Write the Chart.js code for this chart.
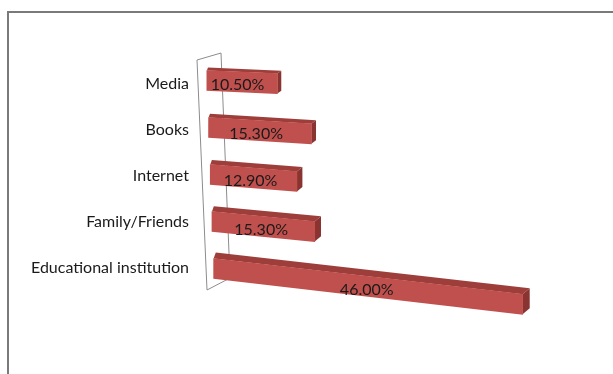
<!DOCTYPE html>
<html>
<head>
<meta charset="utf-8">
<script src="https://cdn.jsdelivr.net/npm/chart.js@4"></script>
<style>
  html, body { margin: 0; padding: 0; background: #fff; width: 613px; height: 374px; overflow: hidden; }
  #frame { position: absolute; left: 7px; top: 11px; width: 640px; height: 400px;
           border-top: 2px solid #7a7a7a; border-left: 2px solid #7a7a7a; }
  #wrap { position: absolute; left: 0; top: 0; width: 613px; height: 374px; }
</style>
</head>
<body>
<div id="frame"></div>
<div id="wrap"><canvas id="chart" width="613" height="374"></canvas></div>
<script>
// Sources of information (share of respondents, %)
const categories = ['Media', 'Books', 'Internet', 'Family/Friends', 'Educational institution'];
const shares = [10.5, 15.3, 12.9, 15.3, 46.0];
const valueLabels = ['10.50%', '15.30%', '12.90%', '15.30%', '46.00%'];

const FRONT = '#C0504D';
const TOP = '#9E3E3B';
const END = '#8A3432';
const FONT = 'Lato, "Open Sans", sans-serif';

// Perspective helpers: bars sink toward the bottom-right and gain depth lower down
function barGeom(chart, el) {
  const area = chart.chartArea;
  const t = (el.y - area.top) / (area.bottom - area.top); // 0 at top, 1 at bottom
  return {
    shift: t * 8.5,                 // left edge drifts right with the wall
    lift: -4 + t * 5,               // vertical placement within the band
    slope: 0.035 + t * 0.09,        // downward tilt along the bar
    dx: 3.5 + t * 4,                // depth offset
    dy: -(2.5 + t * 4)
  };
}

const perspectiveBars = {
  id: 'perspectiveBars',
  beforeDatasetsDraw(chart) {
    // back wall behind the category axis
    const { ctx, chartArea: a } = chart;
    ctx.save();
    ctx.strokeStyle = '#8c8c8c';
    ctx.lineWidth = 1;
    ctx.beginPath();
    ctx.moveTo(a.left - 9, a.top - 1);
    ctx.lineTo(a.left + 15, a.top - 8);
    ctx.lineTo(a.left + 24, a.bottom - 13);
    ctx.lineTo(a.left + 1, a.bottom - 1);
    ctx.closePath();
    ctx.stroke();
    ctx.restore();

    const meta = chart.getDatasetMeta(0);
    meta.data.forEach((el) => {
      if (el._wrapped) return;
      const orig = el.draw;
      el.draw = function (c) {
        const g = barGeom(chart, this);
        const x0 = this.base, x1 = this.x;
        const yT = this.y - this.height / 2 + g.lift, yB = this.y + this.height / 2 + g.lift;
        const drop = g.slope * (x1 - x0);
        const TL = [x0 + g.shift, yT], TR = [x1 + g.shift, yT + drop];
        const BR = [x1 + g.shift, yB + drop];
        c.save();
        // top face
        c.fillStyle = TOP;
        c.beginPath();
        c.moveTo(TL[0], TL[1]);
        c.lineTo(TR[0], TR[1]);
        c.lineTo(TR[0] + g.dx, TR[1] + g.dy);
        c.lineTo(TL[0] + g.dx * 0.3, TL[1] + g.dy);
        c.closePath();
        c.fill();
        // end face
        c.fillStyle = END;
        c.beginPath();
        c.moveTo(TR[0], TR[1]);
        c.lineTo(TR[0] + g.dx, TR[1] + g.dy);
        c.lineTo(BR[0] + g.dx, BR[1] + g.dy);
        c.lineTo(BR[0], BR[1]);
        c.closePath();
        c.fill();
        // front face, drawn by the bar element itself under a skew
        c.transform(1, g.slope, 0, 1, g.shift, g.lift - g.slope * x0);
        orig.call(this, c);
        c.restore();
      };
      el._wrapped = true;
    });
  },
  afterDatasetsDraw(chart) {
    const { ctx } = chart;
    const meta = chart.getDatasetMeta(0);
    ctx.save();
    ctx.font = '16px ' + FONT;
    ctx.fillStyle = '#1a1a1a';
    ctx.textAlign = 'center';
    ctx.textBaseline = 'middle';
    meta.data.forEach((el, i) => {
      const g = barGeom(chart, el);
      const t = (el.y - chart.chartArea.top) / (chart.chartArea.bottom - chart.chartArea.top);
      const cx = (el.base + el.x) / 2;
      const cy = el.y + g.lift + g.slope * (cx - el.base) + 3;
      ctx.fillText(valueLabels[i], cx + g.shift - 5 + t * 4, cy);
    });
    ctx.restore();
  }
};

new Chart(document.getElementById('chart'), {
  type: 'bar',
  data: {
    labels: categories,
    datasets: [{
      data: shares,
      backgroundColor: FRONT,
      borderWidth: 0,
      barThickness: 20,
      clip: false
    }]
  },
  options: {
    indexAxis: 'y',
    responsive: false,
    animation: false,
    events: [],
    layout: { padding: { left: 0, right: 4, top: 61, bottom: 83 } },
    plugins: { legend: { display: false }, tooltip: { enabled: false } },
    scales: {
      x: { display: false, min: 0, max: 60 },
      y: {
        grid: { display: false, drawTicks: false },
        border: { display: false },
        ticks: { color: '#1a1a1a', font: { family: FONT, size: 16 }, padding: 17 },
        afterFit(axis) { axis.width = 206; }
      }
    }
  },
  plugins: [perspectiveBars]
});
</script>
</body>
</html>
